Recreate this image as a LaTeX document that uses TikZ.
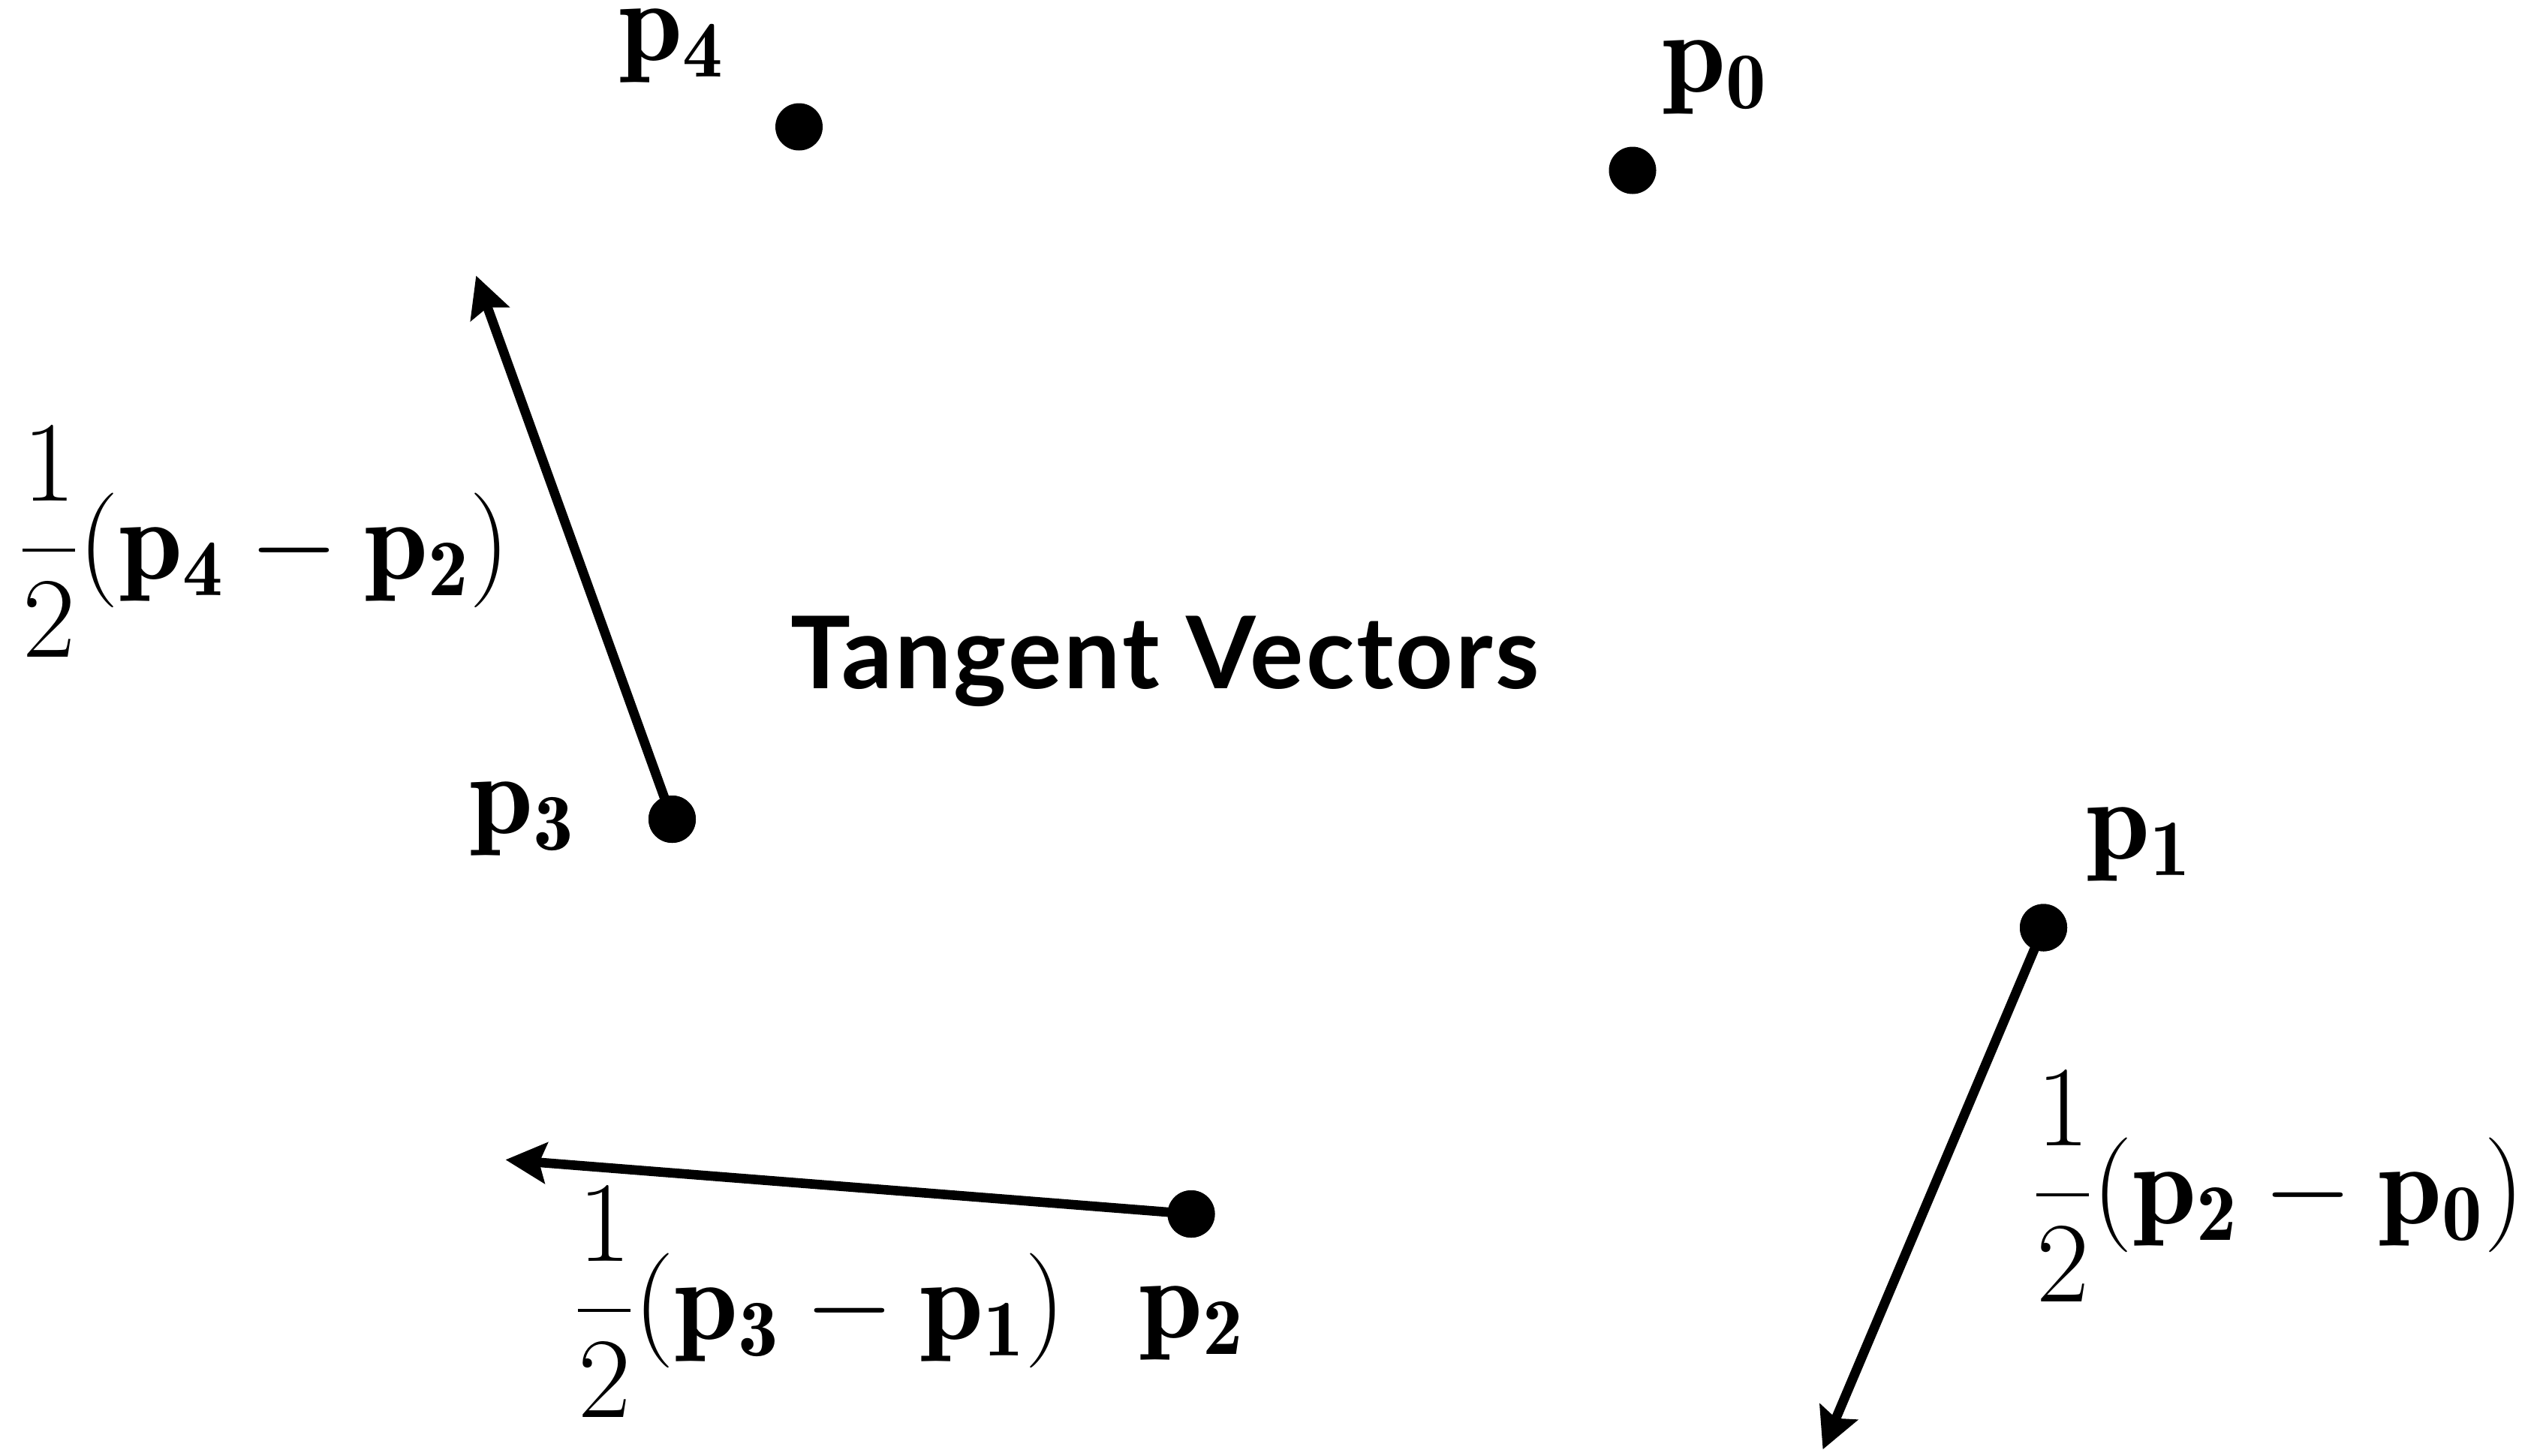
\RequirePackage{fix-cm}
\documentclass[tikz,border=0pt]{standalone}
\usepackage{amsmath}
\usepackage{fontspec}
\newfontfamily\headfont{Lato}[LetterSpace=2.3]
\usepackage{tikz}
\usetikzlibrary{arrows.meta,calc}
\tikzset{
  dot/.style={circle, fill=black, inner sep=0pt, minimum size=0.63cm},
  ptlab/.style={anchor=base, inner sep=0pt, font=\fontsize{43.5}{50}\selectfont},
  tanlab/.style={anchor=base, inner sep=0pt, font=\fontsize{43.5}{50}\selectfont},
  headlab/.style={anchor=base, inner sep=0pt, font=\headfont\bfseries\fontsize{38}{44}\selectfont},
  tanvec/.style={-{Stealth[length=0.54cm, width=0.54cm, inset=0.09cm]}, line width=3.6pt, draw=black}}

\begin{document}
\begin{tikzpicture}
  \useasboundingbox (0,0) rectangle (33.92,-19.39);
  \node[dot] (p0) at (21.75,-2.27) {};
  \node[dot] (p1) at (27.225,-12.36) {};
  \node[dot] (p2) at (15.87,-16.175) {};
  \node[dot] (p3) at (8.955,-10.915) {};
  \node[dot] (p4) at (10.645,-1.69) {};
  \coordinate (t1) at ($(p1)+0.5*(p2)-0.5*(p0)$);
  \coordinate (t2) at ($(p2)+0.5*(p3)-0.5*(p1)$);
  \coordinate (t3) at ($(p3)+0.5*(p4)-0.5*(p2)$);
  \draw[tanvec] (p1.center) -- (t1);
  \draw[tanvec] (p2.center) -- (t2);
  \draw[tanvec] (p3.center) -- (t3);
  \node[dot] at (p1) {};
  \node[dot] at (p2) {};
  \node[dot] at (p3) {};
  \node[ptlab] (lp0) at (22.85,-1.22) {$\mathbf{p_0}$};
  \node[ptlab] (lp1) at (28.50,-11.44) {$\mathbf{p_1}$};
  \node[ptlab] (lp2) at (15.88,-17.82) {$\mathbf{p_2}$};
  \node[ptlab] (lp3) at (6.96,-11.10) {$\mathbf{p_3}$};
  \node[ptlab] (lp4) at (8.95,-0.80) {$\mathbf{p_4}$};
  \node[tanlab] (f1) at (30.36,-16.30) {$\dfrac{1}{2}(\mathbf{p_2}-\mathbf{p_0})$};
  \node[tanlab] (f2) at (10.93,-17.84) {$\dfrac{1}{2}(\mathbf{p_3}-\mathbf{p_1})$};
  \node[tanlab] (f3) at (3.53,-7.71) {$\dfrac{1}{2}(\mathbf{p_4}-\mathbf{p_2})$};
  \node[headlab] (head) at (15.52,-9.17) {Tangent Vectors};
\end{tikzpicture}
\end{document}
